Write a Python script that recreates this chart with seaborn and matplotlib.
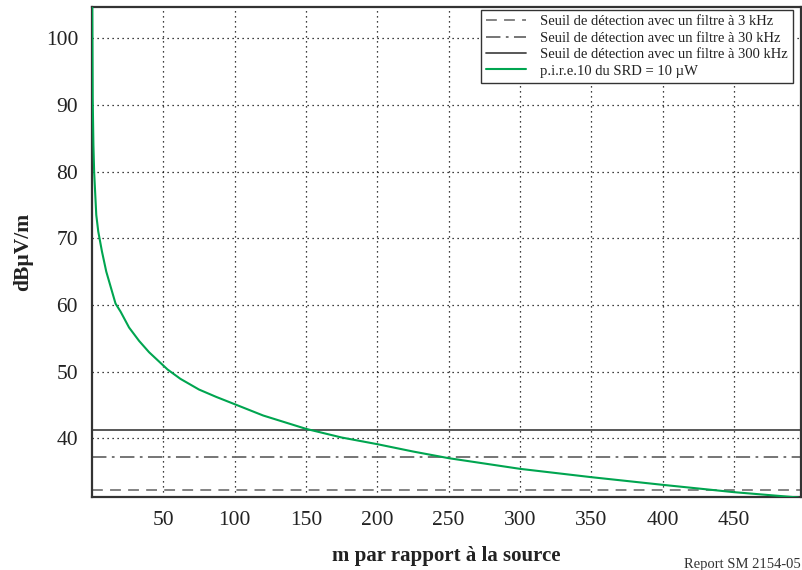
import matplotlib
matplotlib.use("Agg")
import matplotlib.pyplot as plt
import seaborn as sns
import pandas as pd

# Data
distance_m = [0.2, 0.5, 1.0, 1.5, 2.3, 3.0, 4.4, 7.0, 10.0, 16.5, 20.0, 26.0, 33.0, 40.0,
              53.0, 62.0, 75.0, 87.0, 100.0, 120.0, 150.0, 175.0, 200.0, 225.0, 250.0,
              275.0, 300.0, 350.0, 400.0, 450.0, 495.0]
field_dbuv = [105.0, 91.0, 84.0, 80.0, 76.5, 73.5, 71.0, 68.0, 65.0, 60.2, 59.0, 56.6, 54.6,
              52.9, 50.3, 48.9, 47.3, 46.2, 45.1, 43.4, 41.4, 40.1, 39.1, 38.0, 37.0,
              36.2, 35.4, 34.15, 33.0, 31.9, 31.1]
threshold_labels = ["Seuil de détection avec un filtre à 3 kHz",
                    "Seuil de détection avec un filtre à 30 kHz",
                    "Seuil de détection avec un filtre à 300 kHz"]
threshold_values = [32.2, 37.2, 41.2]
curve_label = "p.i.r.e.10 du SRD = 10 µW"
x_ticks = [50, 100, 150, 200, 250, 300, 350, 400, 450]
y_ticks = [40, 50, 60, 70, 80, 90, 100]

sns.set_theme(style="white")
plt.rcParams["font.family"] = ["Liberation Serif", "DejaVu Serif"]

fig = plt.figure(figsize=(8.02, 5.70), dpi=100)
ax = fig.add_axes([0.1147, 0.1272, 0.8841, 0.86])

threshold_styles = [dict(color="#7a7a7a", linestyle=(0, (6, 4)), linewidth=1.3),
                    dict(color="#6a6a6a", linestyle=(0, (8, 3, 1.5, 3)), linewidth=1.3),
                    dict(color="#4a4a4a", linestyle="-", linewidth=1.3)]
for lab, val, st in zip(threshold_labels, threshold_values, threshold_styles):
    ax.axhline(val, label=lab, zorder=2, **st)

df = pd.DataFrame({"d": distance_m, "E": field_dbuv})
sns.lineplot(data=df, x="d", y="E", ax=ax, color="#00a550", linewidth=1.5,
             label=curve_label, zorder=3, sort=False)

ax.set_xlim(0, 497)
ax.set_ylim(31.1, 104.65)
ax.set_xticks(x_ticks)
ax.set_yticks(y_ticks)
ax.grid(True, color="black", linestyle=(0, (1, 3)), linewidth=0.9)
ax.tick_params(direction="in", length=6, width=1.2, colors="#333333",
               labelsize=15.5, labelcolor="#222222", pad=10)
for s in ax.spines.values():
    s.set_color("#333333")
    s.set_linewidth(1.6)

ax.set_xlabel("m par rapport à la source", fontsize=15, fontweight="bold",
              color="#222222", labelpad=11)
ax.set_ylabel("dBµV/m", fontsize=15.5, fontweight="bold", color="#222222", labelpad=9)

leg = ax.legend(loc="upper right", bbox_to_anchor=(0.9887, 0.9945), borderaxespad=0,
                fontsize=10.5, frameon=True, fancybox=False, edgecolor="#333333",
                framealpha=1, handlelength=2.7, handletextpad=1.0, borderpad=0.35,
                labelspacing=0.22)
leg.get_frame().set_linewidth(1.0)
for t in leg.get_texts():
    t.set_color("#222222")

fig.text(0.998, 0.0105, "Report SM 2154-05", ha="right", va="center", fontsize=10.5,
         color="#333333")

fig.savefig("out.png", dpi=100)
